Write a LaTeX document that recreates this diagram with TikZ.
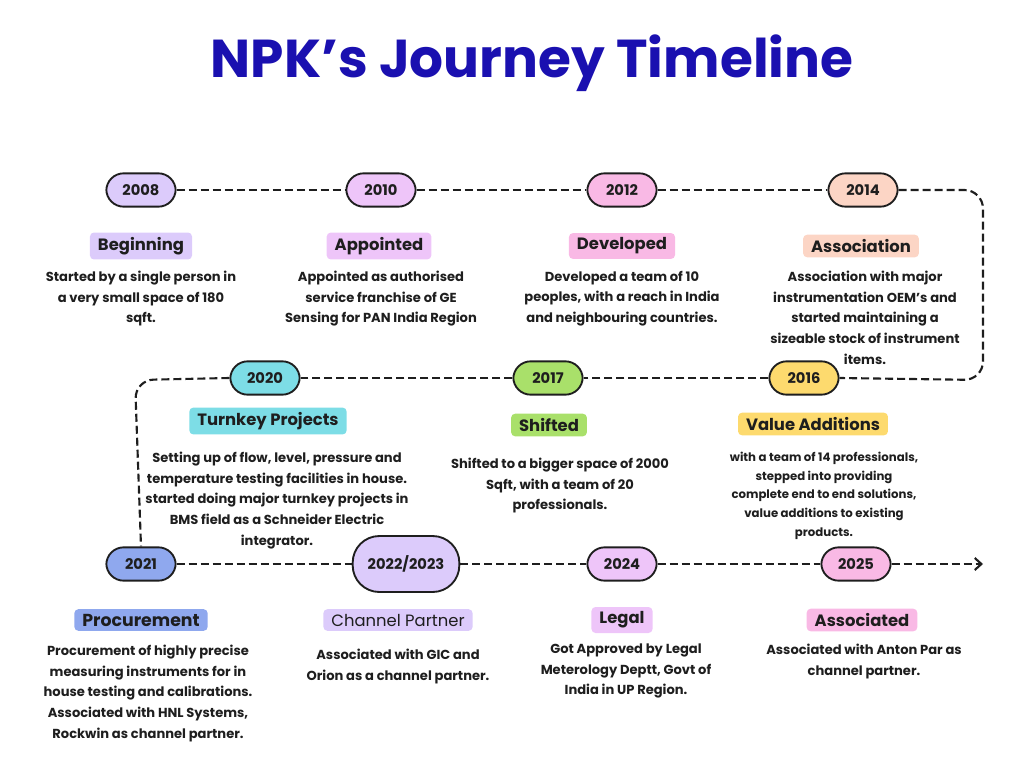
\documentclass[tikz,border=0pt]{standalone}
\usepackage{fontspec}
\setmainfont{Lato}
\newfontfamily\headfont{Poppins}
\usetikzlibrary{arrows.meta}
\definecolor{cTitle}{HTML}{1A10B0}
\definecolor{cLav}{HTML}{DCCBFB}
\definecolor{cMauve}{HTML}{EEC5F9}
\definecolor{cPink}{HTML}{F9B9E5}
\definecolor{cPeach}{HTML}{FCD5C5}
\definecolor{cYellow}{HTML}{FDDA6E}
\definecolor{cGreen}{HTML}{A9E06A}
\definecolor{cCyan}{HTML}{7DDDE6}
\definecolor{cBlue}{HTML}{8FA8EE}
\definecolor{cInk}{HTML}{1E1E1E}
\tikzset{every picture/.style={line width=0.75pt}}
\tikzset{
  year/.style={draw=cInk, line width=1.4pt, rounded corners=13pt, minimum width=52pt, minimum height=25pt, font=\headfont\bfseries\fontsize{11}{13}\selectfont, text=cInk},
  tag/.style={rounded corners=3pt, inner xsep=6pt, inner ysep=3.5pt, font=\headfont\bfseries\fontsize{12.3}{14}\selectfont, text=cInk},
  body/.style={align=center, font=\headfont\bfseries\fontsize{9.8}{15.5}\selectfont, text=cInk},
  link/.style={draw=cInk, line width=1.6pt, dash pattern=on 6pt off 3pt}
}
\begin{document}
\begin{tikzpicture}[x=0.75pt,y=0.75pt,yscale=-1,xscale=1]
	\useasboundingbox (0,0) rectangle (1024,768);

	% title
	\node (title) at (532,63) {\headfont\bfseries\fontsize{40}{46}\selectfont\color{cTitle}NPK’s Journey Timeline};

	% year pills
	\node[year, fill=cLav] (y08) at (141,190) {2008};
	\node[year, fill=cMauve] (y10) at (381,190) {2010};
	\node[year, fill=cPink] (y12) at (622,190) {2012};
	\node[year, fill=cPeach] (y14) at (863,190) {2014};
	\node[year, fill=cYellow] (y16) at (804,378) {2016};
	\node[year, fill=cGreen] (y17) at (548,378) {2017};
	\node[year, fill=cCyan] (y20) at (265,378) {2020};
	\node[year, fill=cBlue] (y21) at (141,564) {2021};
	\node[year, fill=cLav, minimum width=80pt, minimum height=42pt, rounded corners=20pt] (y22) at (406,564) {2022/2023};
	\node[year, fill=cMauve] (y24) at (622,564) {2024};
	\node[year, fill=cPink] (y25) at (856,564) {2025};
	\coordinate (tip) at (983,564);

	% dashed connectors
	\draw[link] (y08) -- (y10);
	\draw[link] (y10) -- (y12);
	\draw[link] (y12) -- (y14);
	\draw[link, rounded corners=14pt] (y14.east) -- (983,190) -- (983,380) -- (y16.east);
	\draw[link] (y16) -- (y17);
	\draw[link] (y17) -- (y20);
	\draw[link, rounded corners=14pt] (y20.west) -- (135,380) -- (y21.north);
	\draw[link] (y21) -- (y22);
	\draw[link] (y22) -- (y24);
	\draw[link] (y24) -- (y25);
	\draw[link, -{Straight Barb[length=5pt,width=9pt]}] (y25) -- (tip);

	% tags
	\node[tag, fill=cLav] (t08) at (141,246) {Beginning};
	\node[tag, fill=cMauve] (t10) at (379,246) {Appointed};
	\node[tag, fill=cPink] (t12) at (622,246) {Developed};
	\node[tag, fill=cPeach] (t14) at (861,246) {Association};
	\node[tag, fill=cYellow] (t16) at (813,424) {Value Additions};
	\node[tag, fill=cGreen] (t17) at (549,425) {Shifted};
	\node[tag, fill=cCyan] (t20) at (268,421) {Turnkey Projects};
	\node[tag, fill=cBlue, font=\headfont\bfseries\fontsize{13}{15}\selectfont] (t21) at (141,620) {Procurement};
	\node[tag, fill=cLav, font=\headfont\fontsize{12.3}{14}\selectfont] (t22) at (398,620) {Channel Partner};
	\node[tag, fill=cMauve] (t24) at (622,620) {Legal};
	\node[tag, fill=cPink] (t25) at (862,620) {Associated};

	% descriptions
	\node[body, anchor=north] (d08) at (141,266) {Started by a single person in\\a very small space of 180\\sqft.};
	\node[body, anchor=north] (d10) at (381,266) {Appointed as authorised\\service franchise of GE\\Sensing for PAN India Region};
	\node[body, anchor=north] (d12) at (622,266) {Developed a team of 10\\peoples, with a reach in India\\and neighbouring countries.};
	\node[body, anchor=north] (d14) at (865,266) {Association with major\\instrumentation OEM’s and\\started maintaining a\\sizeable stock of instrument\\items.};
	\node[body, anchor=north, font=\headfont\bfseries\fontsize{8.8}{14}\selectfont] (d16) at (824,447) {with a team of 14 professionals,\\stepped into providing\\complete end to end solutions,\\value additions to existing\\products.};
	\node[body, anchor=north] (d17) at (560,453) {Shifted to a bigger space of 2000\\Sqft, with a team of 20\\professionals.};
	\node[body, anchor=north] (d20) at (277,447) {Setting up of flow, level, pressure and\\temperature testing facilities in house.\\started doing major turnkey projects in\\BMS field as a Schneider Electric\\integrator.};
	\node[body, anchor=north] (d21) at (148,640) {Procurement of highly precise\\measuring instruments for in\\house testing and calibrations.\\Associated with HNL Systems,\\Rockwin as channel partner.};
	\node[body, anchor=north] (d22) at (398,644) {Associated with GIC and\\Orion as a channel partner.};
	\node[body, anchor=north] (d24) at (626,639) {Got Approved by Legal\\Meterology Deptt, Govt of\\India in UP Region.};
	\node[body, anchor=north] (d25) at (864,639) {Associated with Anton Par as\\channel partner.};
\end{tikzpicture}
\end{document}
